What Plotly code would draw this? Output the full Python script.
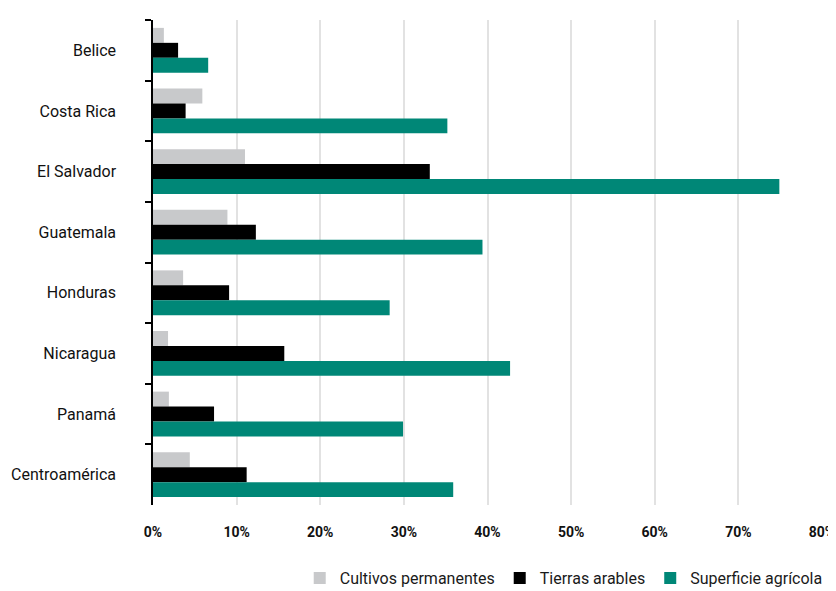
import plotly.graph_objects as go

categories = ["Belice", "Costa Rica", "El Salvador", "Guatemala", "Honduras",
              "Nicaragua", "Panamá", "Centroamérica"]
cultivos = [1.3, 5.9, 11.0, 8.9, 3.6, 1.8, 1.9, 4.4]
tierras = [3.0, 3.9, 33.1, 12.3, 9.1, 15.7, 7.3, 11.2]
superficie = [6.6, 35.2, 74.9, 39.4, 28.3, 42.7, 29.9, 35.9]
series_names = ["Cultivos permanentes", "Tierras arables", "Superficie agrícola"]
colors = ["#C8C9CB", "#000000", "#008777"]
xticks = [0, 10, 20, 30, 40, 50, 60, 70, 80]

FONT = "Roboto, DejaVu Sans Condensed, sans-serif"

fig = go.Figure()
for name, vals, col in zip(series_names, [cultivos, tierras, superficie], colors):
    fig.add_trace(go.Bar(y=categories, x=vals, name=name, orientation="h",
                         marker=dict(color=col, line=dict(width=0))))

# page body has an 8px default margin, so the figure is offset by 8px
fig.update_layout(
    width=828, height=583,
    barmode="group", bargap=0.26, bargroupgap=0,
    plot_bgcolor="white", paper_bgcolor="white",
    margin=dict(l=145, r=14, t=12, b=86, autoexpand=False),
    font=dict(family=FONT, size=16, color="#1a1a1a"),
    legend=dict(orientation="h", x=0.99, xanchor="right", xref="container",
                y=0.022, yanchor="middle", yref="container",
                font=dict(size=16), traceorder="normal"),
    xaxis=dict(range=[0, 80], tickvals=xticks, ticktext=[f"{v}%" for v in xticks],
               showgrid=True, gridcolor="#E2E2E2", gridwidth=1.5, zeroline=False,
               showline=False, ticks="", ticklabelstandoff=17, automargin=False,
               ticklabeloverflow="allow",
               tickfont=dict(size=14, family=FONT, weight="bold", color="#111")),
    yaxis=dict(autorange="reversed", showline=True, linecolor="#000", linewidth=1.5,
               ticks="outside", tickson="boundaries", ticklen=6, tickcolor="#000",
               tickwidth=1.5, ticklabelstandoff=32, showgrid=False, automargin=False,
               tickfont=dict(size=16, family=FONT, color="#111")),
)

fig.write_html("out.html")
